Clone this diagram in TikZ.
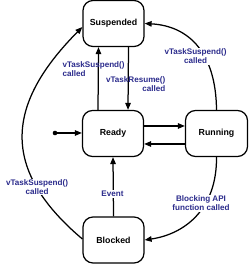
\documentclass[tikz,border=0pt]{standalone}
\usepackage{fontspec}
\setmainfont{Liberation Sans}
\usetikzlibrary{arrows.meta}
\definecolor{callblue}{RGB}{43,43,140}

\tikzset{
  state/.style={draw, rounded corners=10pt, minimum width=61pt, minimum height=46pt,
    inner sep=0pt, font=\bfseries\fontsize{8.8}{10}\selectfont},
  evt/.style={text=callblue, fill=white, inner sep=1pt,
    font=\bfseries\fontsize{8.1}{9}\selectfont},
  tip/.style={-{Triangle[length=7pt,width=5.5pt]}}
}

\begin{document}
\begin{tikzpicture}[x=1pt,y=1pt,line width=1.25pt]
\useasboundingbox (0,0) rectangle (250,264);
% states
\node[state] (susp) at (113.5,240.5) {Suspended};
\node[state] (ready) at (113,130.5) {Ready};
\node[state, minimum width=62pt] (run) at (216.5,130.5) {Running};
\node[state] (blk) at (113.5,24) {Blocked};
\fill (55,131) circle (2.3pt) coordinate (init);
% straight transitions
\draw[tip] (init) -- (ready.west |- init);
\draw[tip] ([xshift=-15pt]ready.north) -- ([xshift=-15pt]susp.south);
\draw[tip] ([xshift=15pt]susp.south) -- ([xshift=15pt]ready.north);
\draw[tip] ([yshift=7.5pt]ready.east) -- ([yshift=7.5pt]run.west);
\draw[tip] ([yshift=-10.5pt]run.west) -- ([yshift=-10.5pt]ready.east);
\draw[tip] (blk.north) -- (ready.south);
% curved transitions
\draw[tip] ([yshift=1pt]blk.west) .. controls (-0.5,95) and (6,160) .. ([yshift=-3.5pt]susp.west);
\draw[tip] (run.north) .. controls (216,210) and (190,238) .. (susp.east);
\draw[tip] (run.south) .. controls (217,55) and (185,30) .. (blk.east);
% labels
\node[evt, align=left, anchor=west, fill=none] (l1) at (61,194.5) {vTaskSuspend()\\called};
\node[evt, align=right, anchor=east, fill=none] (l2) at (167,179.5) {vTaskResume()\\called};
\node[evt, align=center] (l3) at (195.5,207.5) {vTaskSuspend()\\called};
\node[evt, align=center] (l4) at (37,77) {vTaskSuspend()\\called};
\node[evt] (l5) at (112.5,70) {Event};
\node[evt, align=center] (l6) at (201,60.5) {Blocking API\\function called};
\end{tikzpicture}
\end{document}
